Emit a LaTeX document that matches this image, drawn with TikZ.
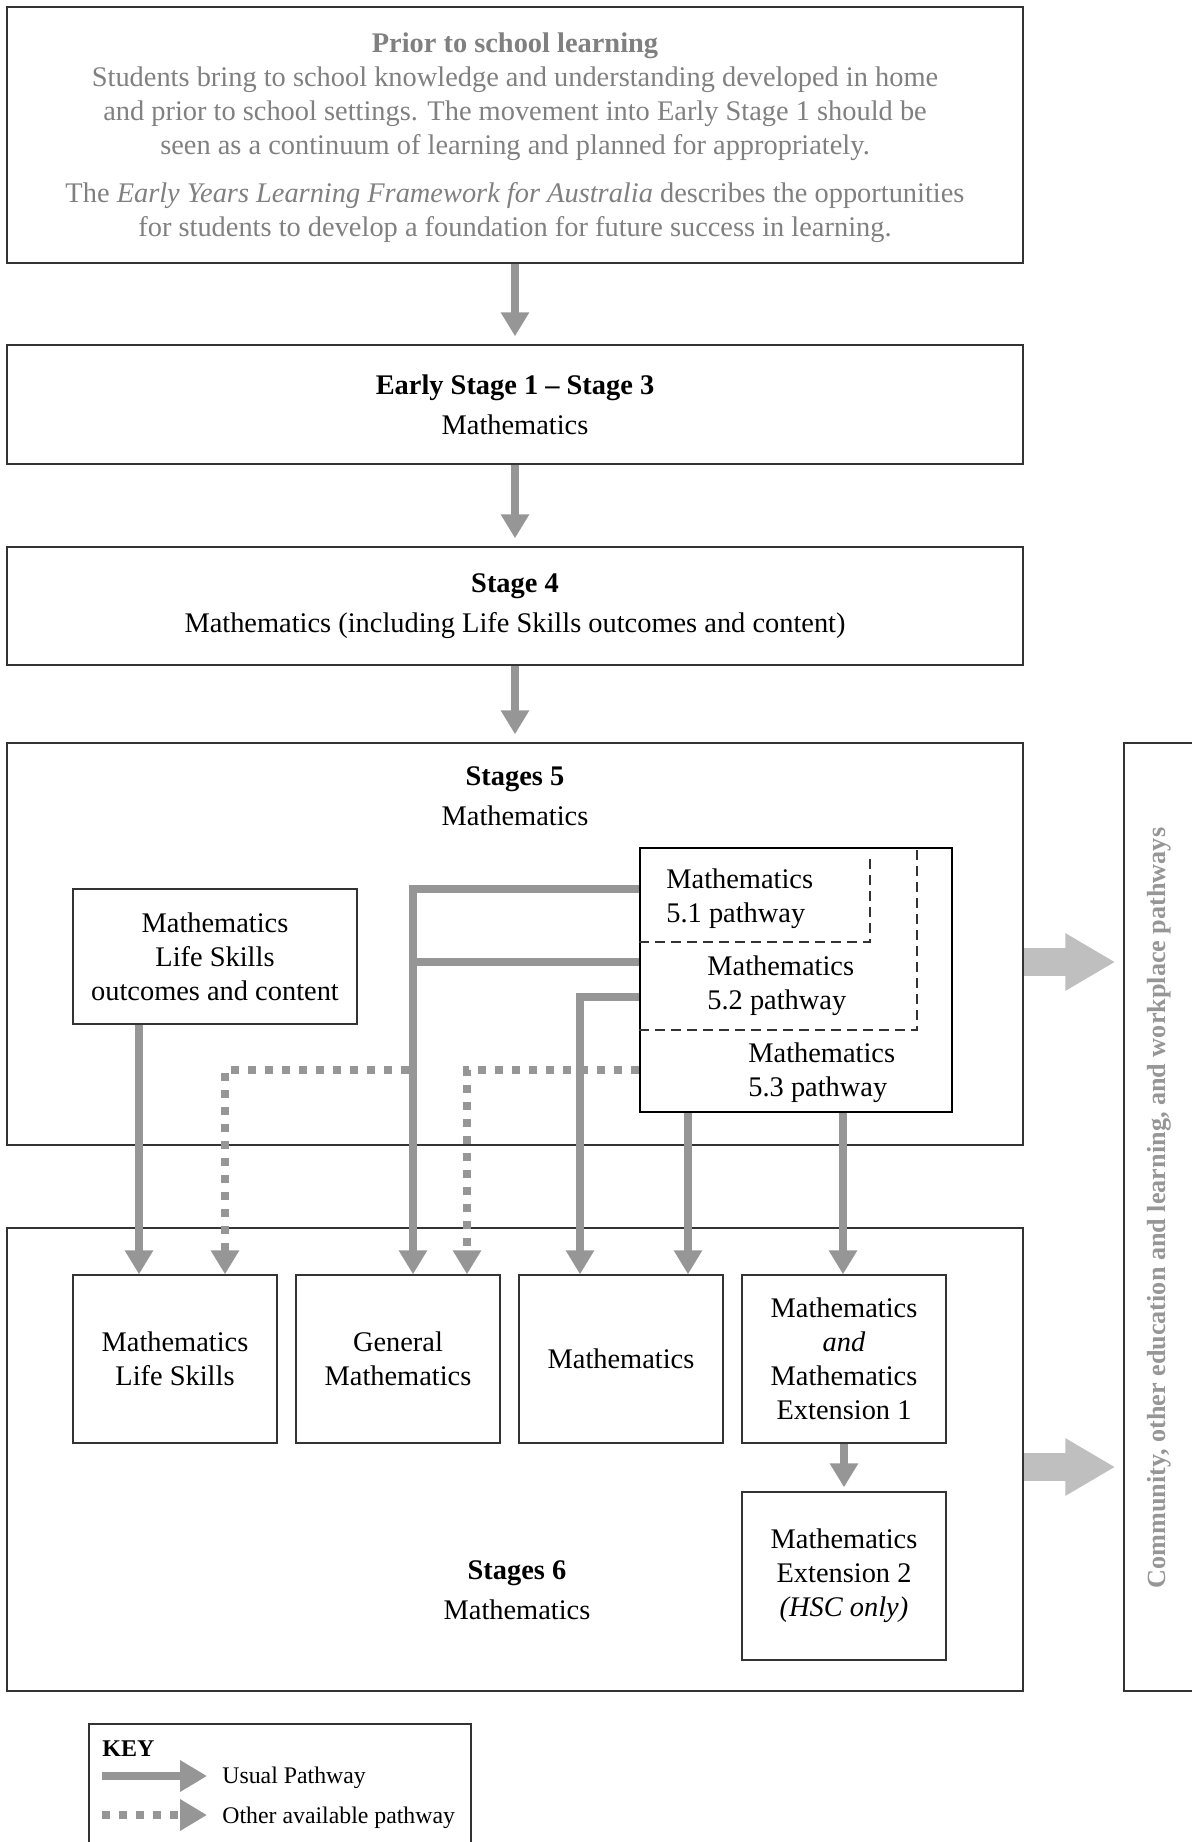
\documentclass[tikz,border=0pt]{standalone}
\usepackage{fontspec}
\setmainfont{Liberation Serif}
\usetikzlibrary{arrows.meta}
\definecolor{pathgray}{RGB}{150,150,150}
\definecolor{exitgray}{RGB}{191,191,191}
\definecolor{priorgray}{RGB}{128,128,128}

\begin{document}
\begin{tikzpicture}[x=0.5pt,y=-0.5pt,
        every node/.style={font=\fontsize{14.2pt}{17pt}\selectfont},
        stagebox/.style={draw=black!80,line width=0.7pt,align=center,minimum width=508pt,inner sep=0pt},
        unitbox/.style={draw=black!80,line width=0.7pt,align=center,minimum width=102pt,minimum height=84pt,inner sep=0pt},
        usual/.style={draw=pathgray,line width=4.2pt,-{Triangle[width=13.5pt,length=12pt]}},
        other/.style={usual,dash pattern=on 4pt off 4.5pt},
        exit/.style={draw=exitgray,line width=14pt,-{Triangle[width=27pt,length=25pt]},shorten >=4pt}]
        \useasboundingbox (0,0) rectangle (1192,1842);
        \clip (0,0) rectangle (1192,1842);
        \node[stagebox,minimum height=128pt,text=priorgray] (prior) at (515,135) {};
        \node[align=center,text=priorgray] (priort) at (515,138) {\textbf{Prior to school learning}\\
            Students bring to school knowledge and understanding developed in home\\
            and prior to school settings. The movement into Early Stage 1 should be\\
            seen as a continuum of learning and planned for appropriately.\\[7pt]
            The \textit{Early Years Learning Framework for Australia} describes the opportunities\\
            for students to develop a foundation for future success in learning.};
        \node[stagebox,minimum height=59.5pt] (es) at (515,404.5) {\textbf{Early Stage 1 -- Stage 3}\\[3pt] Mathematics};
        \node[stagebox,minimum height=59pt] (s4) at (515,606) {\textbf{Stage 4}\\[3pt] Mathematics (including Life Skills outcomes and content)};
        \node[stagebox,minimum height=201pt] (s5) at (515,944) {};
        \node[align=center] (s5t) at (515,796) {\textbf{Stages 5}\\[3pt] Mathematics};
        \node[stagebox,minimum height=231.5pt] (s6) at (515,1459.5) {};
        \node[align=center] (s6t) at (517,1590) {\textbf{Stages 6}\\[3pt] Mathematics};
        \node[draw=black!80,line width=0.7pt,minimum width=48pt,minimum height=474pt] (comm) at (1172,1217) {};
        \node[rotate=90,text=pathgray,font=\fontsize{13.1pt}{16pt}\selectfont] (commt) at (1159,1208) {\textbf{Community, other education and learning, and workplace pathways}};

        \node[draw=black!80,line width=0.7pt,align=center,minimum width=142pt,minimum height=67.5pt,inner sep=0pt] (ls5) at (215,956.5) {Mathematics\\Life Skills\\outcomes and content};
        \node[draw=black,line width=0.9pt,minimum width=156pt,minimum height=132pt,inner sep=0pt] (pw) at (796,980) {};
        \draw[black!80,line width=0.6pt,dash pattern=on 5pt off 3pt] (pw.west |- 0,942) -| (870,857);
        \draw[black!80,line width=0.6pt,dash pattern=on 5pt off 3pt] (pw.west |- 0,1030) -| (917,849);
        \node[anchor=west,align=left,inner sep=0pt] (p51) at (666,899) {Mathematics\\5.1 pathway};
        \node[anchor=west,align=left,inner sep=0pt] (p52) at (707,986) {Mathematics\\5.2 pathway};
        \node[anchor=west,align=left,inner sep=0pt] (p53) at (748,1073) {Mathematics\\5.3 pathway};

        \foreach \n/\x/\t in {ls6/175/{Mathematics\\Life Skills},gen/398/{General\\Mathematics},mth/621/{Mathematics},ext1/844/{Mathematics\\\textit{and}\\Mathematics\\Extension 1}}
            \node[unitbox] (\n) at (\x,1359) {\t};
        \node[unitbox] (ext2) at (844,1576) {Mathematics\\Extension 2\\\textit{(HSC only)}};

        \draw[usual,shorten >=4pt] (prior) -- (es);
        \draw[usual,shorten >=4pt] (es) -- (s4);
        \draw[usual,shorten >=4pt] (s4) -- (s5);
        \coordinate (jB) at (413,962);
        \coordinate (jD) at (409,1070);
        \draw[usual] (ls5.south -| 139,0) -- (ls6.north -| 139,0);
        \draw[other] (jD) -| (ls6.north -| 225,0);
        \draw[usual] (pw.west |- 0,889) -| (gen.north -| 413,0);
        \draw[usual,-] (pw.west |- 0,962) -- (jB);
        \draw[other] (pw.west |- 0,1070) -| (gen.north -| 467,0);
        \draw[usual] (pw.west |- 0,997) -| (mth.north -| 580,0);
        \draw[usual] (pw.south -| 688,0) -- (mth.north -| 688,0);
        \draw[usual] (pw.south -| 843,0) -- (ext1.north -| 843,0);
        \draw[usual,shorten >=2pt] (ext1) -- (ext2);
        \draw[exit] (s5.east |- 0,962) -- (comm.west |- 0,962);
        \draw[exit] (s6.east |- 0,1467) -- (comm.west |- 0,1467);

        \node[draw=black!80,line width=0.7pt,minimum width=191pt,minimum height=90pt] (key) at (280,1814) {};
        \node[anchor=west,inner sep=0pt,font=\fontsize{12pt}{14pt}\selectfont\bfseries] (keyt) at (102,1749) {KEY};
        \coordinate (u0) at (102,1776);
        \coordinate (u1) at (207,1776);
        \coordinate (o0) at (102,1815);
        \coordinate (o1) at (207,1815);
        \draw[usual,line width=4pt,-{Triangle[width=15pt,length=13.5pt]}] (u0) -- (u1);
        \draw[other,line width=4pt,-{Triangle[width=15pt,length=13.5pt]}] (o0) -- (o1);
        \node[anchor=west,inner sep=0pt,font=\fontsize{11.9pt}{14pt}\selectfont] (ut) at (222,1778) {Usual Pathway};
        \node[anchor=west,inner sep=0pt,font=\fontsize{11.9pt}{14pt}\selectfont] (ot) at (222,1818) {Other available pathway};
\end{tikzpicture}
\end{document}
